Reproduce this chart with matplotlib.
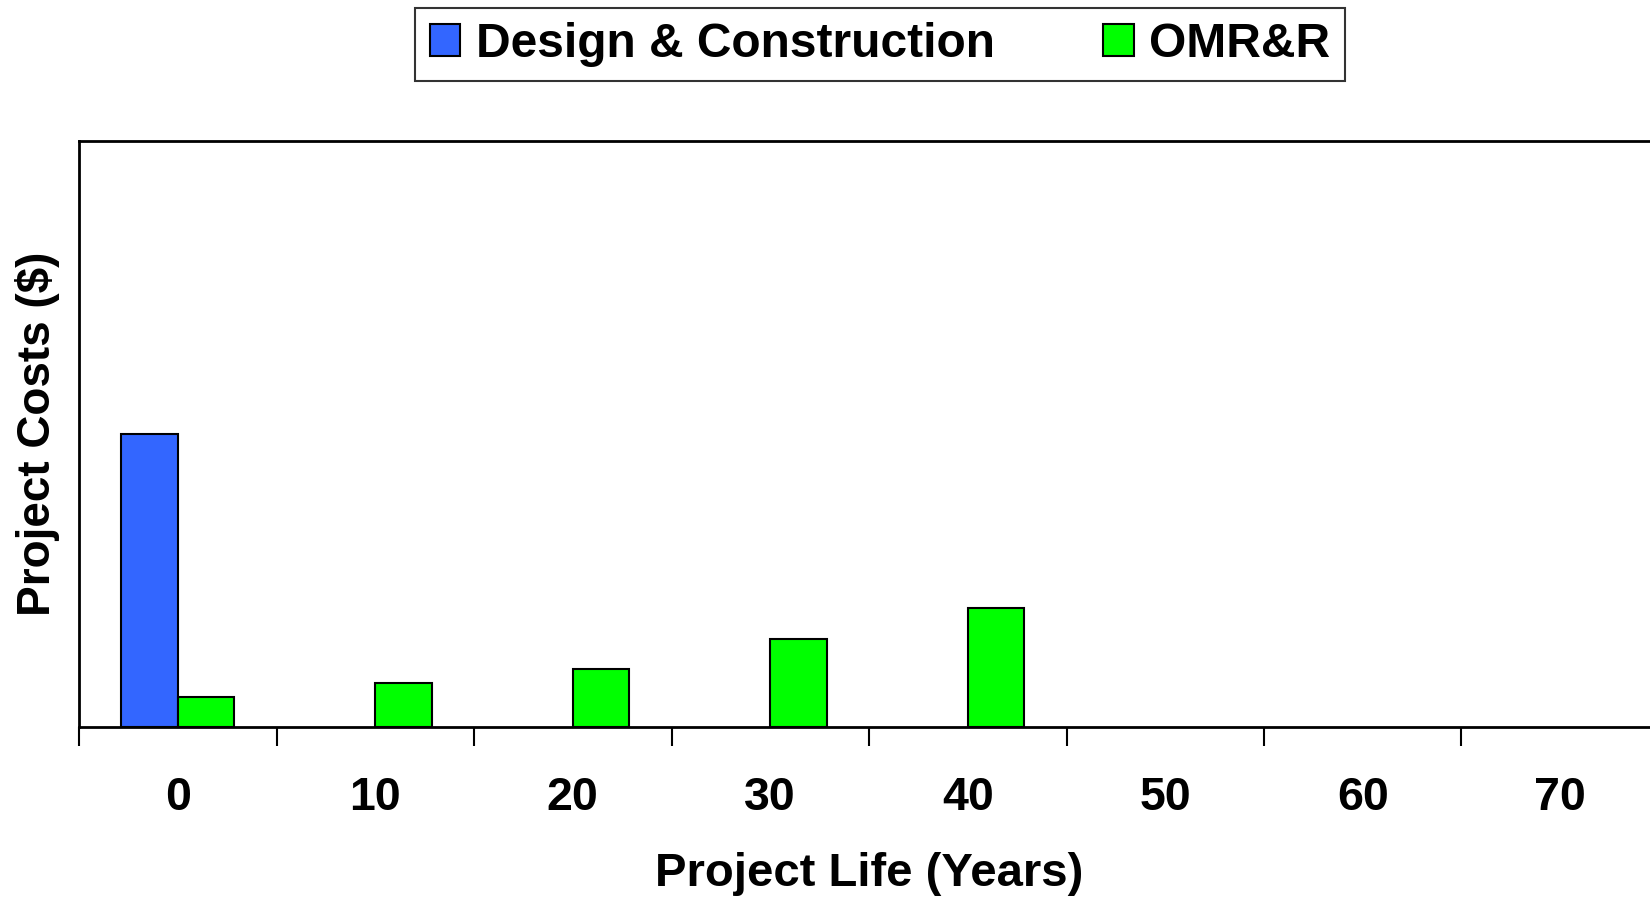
import numpy as np
import matplotlib.pyplot as plt

plt.rcParams['font.family'] = ['Liberation Sans', 'DejaVu Sans']
plt.rcParams['font.weight'] = 'bold'

############################################
years = ['0', '10', '20', '30', '40', '50', '60', '70']
design_construction = [50.0, 0, 0, 0, 0, 0, 0, 0]
omrr = [5.2, 7.5, 9.9, 15.1, 20.3, 0, 0, 0]
y_max = 100.0
############################################

fig = plt.figure(figsize=(16.5, 8.98), dpi=100)
ax = fig.add_axes([79/1650, 171/898, 1580/1650, 586/898])

x = np.arange(len(years))
w = 0.286
dc = np.array(design_construction)
om = np.array(omrr)
ax.bar(x[dc > 0] - w/2, dc[dc > 0], width=w, color='#3366FF',
       edgecolor='black', lw=1.5, label='Design & Construction')
ax.bar(x[om > 0] + w/2, om[om > 0], width=w, color='#00FF00',
       edgecolor='black', lw=1.5, label='OMR&R')

ax.set_xlim(-0.5, len(years) - 0.5)
ax.set_ylim(0, y_max)
ax.set_yticks([])

# ticks on category boundaries, labels in the middle
ax.set_xticks(np.arange(-0.5, len(years)), labels=[])
ax.set_xticks(x, labels=years, minor=True)
ax.tick_params(axis='x', which='major', direction='out', length=14, width=1.5)
ax.tick_params(axis='x', which='minor', length=0, pad=35, labelsize=33.5)

for s in ['left', 'bottom', 'top']:
    ax.spines[s].set_linewidth(2)
ax.spines['right'].set_visible(False)

ax.set_xlabel('Project Life (Years)', fontsize=34, fontweight='bold', labelpad=23)
ax.set_ylabel('Project Costs ($)', fontsize=33, fontweight='bold', labelpad=14)

leg = fig.legend(loc='center', bbox_to_anchor=(880/1650, 1 - 44.5/898), ncol=2,
                 fontsize=34.5, frameon=True, fancybox=False, edgecolor='black',
                 handlelength=0.64, handleheight=0.66, handletextpad=0.33,
                 columnspacing=2.25, borderpad=0.3)
leg.get_frame().set_linewidth(1.5)

plt.savefig('out.png', dpi=100)
